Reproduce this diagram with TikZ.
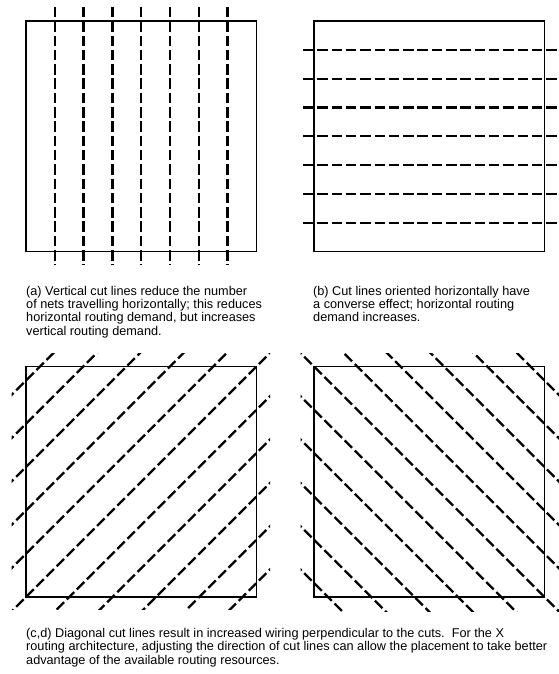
\documentclass[tikz,border=0pt]{standalone}
\usepackage{fontspec}
\setmainfont{Liberation Sans}
\tikzset{
  cellbox/.style={line width=1.5pt},
  cutline/.style={line width=2.3pt, dash pattern=on 10.5pt off 3.8pt},
  capnote/.style={anchor=north west, inner sep=0pt, align=left,
    font=\fontsize{12.7}{13.1}\selectfont}
}
\begin{document}
\begin{tikzpicture}[x=1pt,y=1pt]
	\useasboundingbox (0,0) rectangle (558,674);
	% (a) vertical cuts
	\begin{scope}[shift={(26,422.5)}]
		\draw[cellbox] (0,0) rectangle (230.5,230.5);
		\foreach \k in {1,...,7}
			\draw[cutline] (28.8*\k,244.5) -- (28.8*\k,-14);
	\end{scope}
	
	% (b) horizontal cuts
	\begin{scope}[shift={(314,422.5)}]
		\draw[cellbox] (0,0) rectangle (230.5,230.5);
		\foreach \k in {1,...,7}
			\draw[cutline] (-11,28.8*\k) -- (260,28.8*\k);
	\end{scope}
	
	% (c) diagonal cuts, rising
	\begin{scope}[shift={(26,77)}]
		\draw[cellbox] (0,0) rectangle (230.5,230.5);
		\clip (-14.3,-13) rectangle (244,243);
		\foreach \k in {-5,...,5}
			\draw[cutline] (-30,-30-43.3*\k) -- (260,260-43.3*\k);
	\end{scope}
	
	% (d) diagonal cuts, falling
	\begin{scope}[shift={(314,77)}]
		\draw[cellbox] (0,0) rectangle (230.5,230.5);
		\clip (-13.3,-14.7) rectangle (260,243);
		\foreach \k in {-5,...,5}
			\draw[cutline] (-30,260.5+43.3*\k) -- (260.5+43.3*\k,-30);
	\end{scope}
	
	\node[capnote] (capa) at (26,387.6) {(a) Vertical cut lines reduce the number\\of nets travelling horizontally; this reduces\\horizontal routing demand, but increases\\vertical routing demand.};
	\node[capnote] (capb) at (313,387.6) {(b) Cut lines oriented horizontally have\\a converse effect; horizontal routing\\demand increases.};
	\node[capnote] (capcd) at (26,45.6) {(c,d) Diagonal cut lines result in increased wiring perpendicular to the cuts.\ \ For the X\\routing architecture, adjusting the direction of cut lines can allow the placement to take better\\advantage of the available routing resources.};
\end{tikzpicture}
\end{document}
